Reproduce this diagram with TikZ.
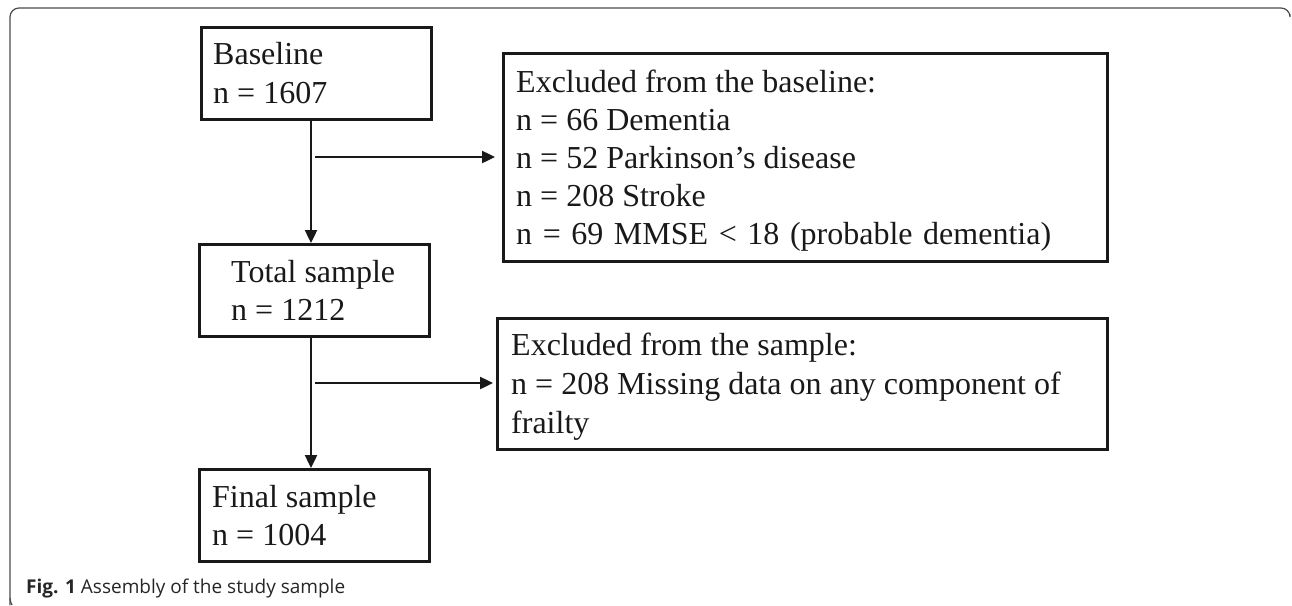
\documentclass[tikz,border=0pt]{standalone}
\usepackage{fontspec}
\setmainfont{Liberation Serif}
\newfontfamily\capfont{Open Sans}
\usetikzlibrary{arrows.meta}
\begin{document}
\begin{tikzpicture}[x=1pt,y=-1pt,
  box/.style={draw=black!90, line width=2.6pt, rectangle, inner sep=0pt, anchor=north west},
  txt/.style={anchor=base west, inner sep=0pt, font=\fontsize{32}{38}\selectfont, text=black!90},
  conn/.style={draw=black!90, line width=2.4pt},
  arr/.style={conn, -{Triangle[length=13pt, width=12pt]}},
  frame/.style={draw=black!70, line width=1.2pt}]
\useasboundingbox (0,0) rectangle (1292,605);
% frame
\draw[frame, rounded corners=9pt] (10,605) -- (10,8) -- (1290,8) -- (1290,14);
\draw[frame] (10,598) .. controls (10,601) and (11,603) .. (12,605);
% boxes
\node[box, minimum width=604pt, minimum height=208pt] (exb) at (502,52) {};
\node[box, minimum width=230pt, minimum height=92pt] (base) at (200,26) {};
\node[box, minimum width=230pt, minimum height=92pt] (tot) at (198,243) {};
\node[box, minimum width=610pt, minimum height=131pt] (exs) at (496,317) {};
\node[box, minimum width=230pt, minimum height=92pt] (fin) at (198,468) {};
% texts
\node[txt] (t1) at (213,64) {Baseline};
\node[txt] (t2) at (213,103) {n = 1607};
\node[txt] (e1) at (516,92) {Excluded from the baseline:};
\node[txt] (e2) at (516,130) {n = 66 Dementia};
\node[txt] (e3) at (516,168) {n = 52 Parkinson’s disease};
\node[txt] (e4) at (516,206) {n = 208 Stroke};
\node[txt] (e5) at (516,244) {\makebox[535pt][s]{n = 69 MMSE < 18 (probable dementia)}};
\node[txt] (s1) at (231,282) {Total sample};
\node[txt] (s2) at (231,320) {n = 1212};
\node[txt] (x1) at (511,355) {Excluded from the sample:};
\node[txt] (x2) at (511,394) {n = 208 Missing data on any component of};
\node[txt] (x3) at (511,433) {frailty};
\node[txt] (f1) at (212,507) {Final sample};
\node[txt] (f2) at (212,545) {n = 1004};
% connectors
\coordinate (a1) at (315,157);
\coordinate (a2) at (315,383);
\draw[arr] (base.south -| 311,0) -- (tot.north -| 311,0);
\draw[arr] (tot.south -| 311,0) -- (fin.north -| 311,0);
\draw[arr] (a1) -- ([xshift=-7pt]exb.west |- a1);
\draw[arr] (a2) -- ([xshift=-3pt]exs.west |- a2);
% caption
\node[anchor=base west, inner sep=0pt, font=\capfont\fontsize{19}{22}\selectfont, text=black!85] (cap) at (26,593) {\textbf{Fig. 1}\ Assembly of the study sample};
\end{tikzpicture}
\end{document}
